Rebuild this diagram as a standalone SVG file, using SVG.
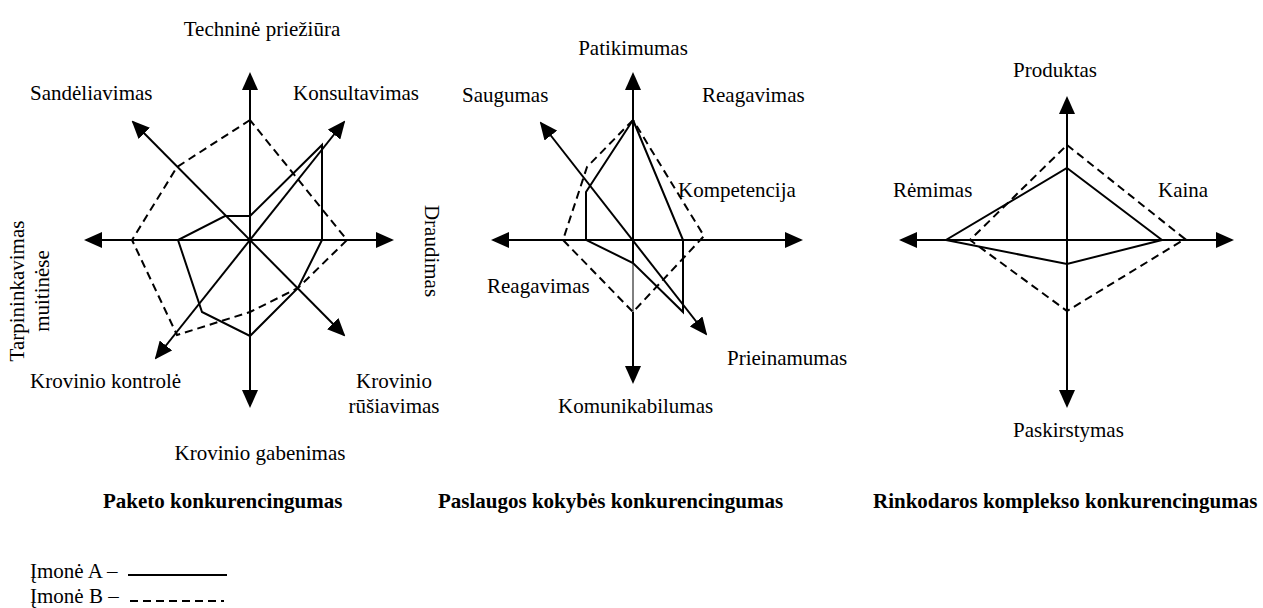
<svg xmlns="http://www.w3.org/2000/svg" width="1263" height="608" viewBox="0 0 1263 608">
<style>
text{font-family:"Liberation Serif","Times New Roman",serif;font-size:21px;fill:#000}
.t{font-weight:bold}
.ax{stroke:#000;stroke-width:2;fill:none;marker-start:url(#ah);marker-end:url(#ah)}
.ax1{stroke:#000;stroke-width:2;fill:none;marker-end:url(#ah)}
.a{stroke:#000;stroke-width:2;fill:none;stroke-linejoin:miter}
.b{stroke:#000;stroke-width:2;fill:none;stroke-dasharray:8 5}
.m{text-anchor:middle}
</style>
<defs>
<marker id="ah" markerUnits="userSpaceOnUse" markerWidth="18" markerHeight="16" refX="16" refY="8" orient="auto-start-reverse" viewBox="0 0 18 16">
<path d="M0,0 L18,8 L0,16 z" fill="#000"/>
</marker>
</defs>
<g id="connectors">
<line class="ax" x1="86" y1="240" x2="392" y2="240"/>
<line class="ax" x1="250" y1="74" x2="250" y2="406"/>
<line class="ax" x1="133" y1="122" x2="344" y2="335"/>
<line class="ax" x1="344" y1="122" x2="156" y2="358"/>
<line class="ax" x1="493" y1="240" x2="801" y2="240"/>
<line class="ax1" x1="633" y1="263" x2="633" y2="74"/>
<line stroke="#000" stroke-width="1" x1="633" y1="263" x2="633" y2="312"/>
<line class="ax1" x1="633" y1="312" x2="633" y2="382"/>
<line class="ax" x1="541" y1="123" x2="706" y2="334"/>
<line class="ax" x1="901" y1="240" x2="1232" y2="240"/>
<line class="ax" x1="1067" y1="98" x2="1067" y2="406"/>
</g>
<g id="chart1">
<polygon class="a" points="250,216 322,145 322,240 298,288 250,336 202,312 178,240 225,216"/>
<polygon class="b" points="250,120 177,167 132,240 177,335 250,312 298,288 347,240"/>
<text class="m" x="262" y="36">Techninė priežiūra</text>
<text x="30" y="100">Sandėliavimas</text>
<text x="293" y="100">Konsultavimas</text>
<text class="m" transform="translate(425,251) rotate(90)" x="0" y="0">Draudimas</text>
<g transform="translate(0,291) rotate(-90)">
<text class="m" x="0" y="24">Tarpininkavimas</text>
<text class="m" x="0" y="49">muitinėse</text>
</g>
<text x="30" y="388">Krovinio kontrolė</text>
<text class="m" x="394" y="388">Krovinio</text>
<text class="m" x="394" y="413">rūšiavimas</text>
<text class="m" x="260" y="460">Krovinio gabenimas</text>
<text x="103" y="508" class="t">Paketo konkurencingumas</text>
</g>
<g id="chart2">
<polygon class="a" points="633,120 586,192 586,240 633,263 683,312 683,240"/>
<polygon class="b" points="633,120 587,167 563,240 633,312 704,236"/>
<text class="m" x="633" y="55">Patikimumas</text>
<text x="462" y="102">Saugumas</text>
<text x="702" y="102">Reagavimas</text>
<text x="678" y="197">Kompetencija</text>
<text x="487" y="293">Reagavimas</text>
<text x="727" y="365">Prieinamumas</text>
<text x="558" y="413">Komunikabilumas</text>
<text x="438" y="508" class="t">Paslaugos kokybės konkurencingumas</text>
</g>
<g id="chart3">
<polygon class="a" points="1067,168 1162,240 1067,264 946,240"/>
<polygon class="b" points="1067,145 1185,239 1067,311 970,240"/>
<text x="1013" y="77">Produktas</text>
<text x="893" y="197">Rėmimas</text>
<text x="1158" y="197">Kaina</text>
<text x="1013" y="437">Paskirstymas</text>
<text x="873" y="508" class="t">Rinkodaros komplekso konkurencingumas</text>
</g>
<g id="legend">
<text x="30" y="578">Įmonė A –</text>
<line stroke="#000" stroke-width="2" x1="128" y1="575" x2="227" y2="575"/>
<text x="30" y="603">Įmonė B –</text>
<line class="b" x1="130" y1="601" x2="224" y2="601"/>
</g>
</svg>
